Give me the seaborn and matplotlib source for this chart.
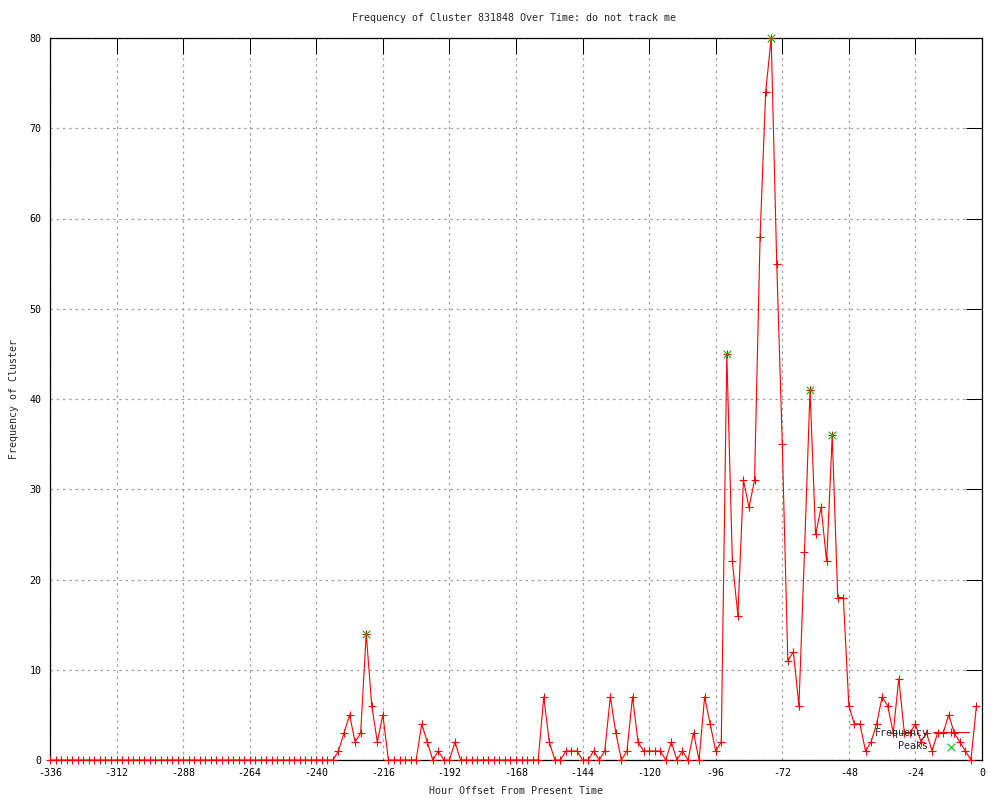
import numpy as np
import matplotlib
matplotlib.use("Agg")
import matplotlib.pyplot as plt
import seaborn as sns

# hour offsets, one sample every two hours
hours = np.arange(-336, 0, 2)

# cluster frequency per sample
freq_quiet = [0, 0, 0, 0, 0, 0, 0, 0, 0, 0, 0, 0, 0, 0, 0, 0, 0, 0, 0, 0, 0, 0, 0, 0, 0, 0,
              0, 0, 0, 0, 0, 0, 0, 0, 0, 0, 0, 0, 0, 0, 0, 0, 0, 0, 0, 0, 0, 0, 0, 0, 0, 0]  # -336 .. -234
freq_early = [1, 3, 5, 2, 3, 14, 6, 2, 5, 0, 0, 0, 0, 0, 0, 4, 2, 0, 1, 0, 0, 2]           # -232 .. -190
freq_gap = [0, 0, 0, 0, 0, 0, 0, 0, 0, 0, 0, 0, 0, 0, 0]                                 # -188 .. -160
freq_mid = [7, 2, 0, 0, 1, 1, 1, 0, 0, 1, 0, 1, 7, 3, 0,                                   # -158 .. -130
            1, 7, 2, 1, 1, 1, 1, 0, 2, 0, 1, 0, 3, 0, 7, 4, 1]                             # -128 .. -96
freq_burst = [2, 45, 22, 16, 31, 28, 31, 58, 74, 80, 55, 35, 11, 12, 6, 23, 41, 25, 28, 22,
              36, 18, 18]                                                                   # -94 .. -50
freq_tail = [6, 4, 4, 1, 2, 4, 7, 6, 3, 9, 3, 3, 4, 2, 3, 1, 3, 3, 5, 3, 2, 1, 0, 6]        # -48 .. -2
freq = freq_quiet + freq_early + freq_gap + freq_mid + freq_burst + freq_tail

peak_hours = [-222, -92, -76, -62, -54]
peak_values = [14, 45, 80, 41, 36]

x_ticks = [-336, -312, -288, -264, -240, -216, -192, -168, -144, -120, -96, -72, -48, -24, 0]
y_ticks = [0, 10, 20, 30, 40, 50, 60, 70, 80]

sns.set_style("white")
plt.rcParams['font.family'] = ['DejaVu Sans Mono', 'DejaVu Sans']
fs = 7.2

fig = plt.figure(figsize=(10, 8), dpi=100)
ax = fig.add_axes([0.05, 0.05, 0.932, 0.9025])

sns.lineplot(x=hours, y=freq, ax=ax, color='red', linewidth=0.8, marker='+',
             markersize=5.5, markeredgewidth=0.8, markeredgecolor='red',
             clip_on=False, label='Frequency', zorder=3)
sns.scatterplot(x=peak_hours, y=peak_values, ax=ax, color='#00c000', marker='x',
                s=30, linewidth=0.8, clip_on=False, label='Peaks', zorder=4)

ax.set_xlim(-336, 0)
ax.set_ylim(0, 80)
ax.set_xticks(x_ticks)
ax.set_yticks(y_ticks)
ax.set_xticklabels([str(t) for t in x_ticks], fontsize=fs)
ax.set_yticklabels([str(t) for t in y_ticks], fontsize=fs)
ax.tick_params(direction='in', top=True, right=True, length=11.5, width=0.72,
               pad=6, colors='black')

ax.grid(True, color='#a0a0a0', linestyle=(0, (2, 3)), linewidth=0.9)
for s in ax.spines.values():
    s.set_visible(True)
    s.set_color('black')
    s.set_linewidth(0.9)

ax.set_xlabel('Hour Offset From Present Time', fontsize=fs)
ax.xaxis.set_label_coords(0.5, -0.036)
ax.xaxis.label.set_va('top')
ax.set_ylabel('Frequency of Cluster', fontsize=fs)
ax.yaxis.label.set_va('center')
ax.yaxis.set_label_coords(-0.0385, 0.5)

fig.text(0.514, 1 - 18 / 800, 'Frequency of Cluster 831848 Over Time: do not track me',
         ha='center', va='center', fontsize=fs)

ax.legend(loc='lower right', bbox_to_anchor=(0.986, 0.012), frameon=False,
          markerfirst=False, fontsize=fs, handlelength=3.6, handletextpad=0.45,
          borderaxespad=0, borderpad=0, labelspacing=0.35, numpoints=1,
          scatterpoints=1)

fig.savefig('out.png', dpi=100)
